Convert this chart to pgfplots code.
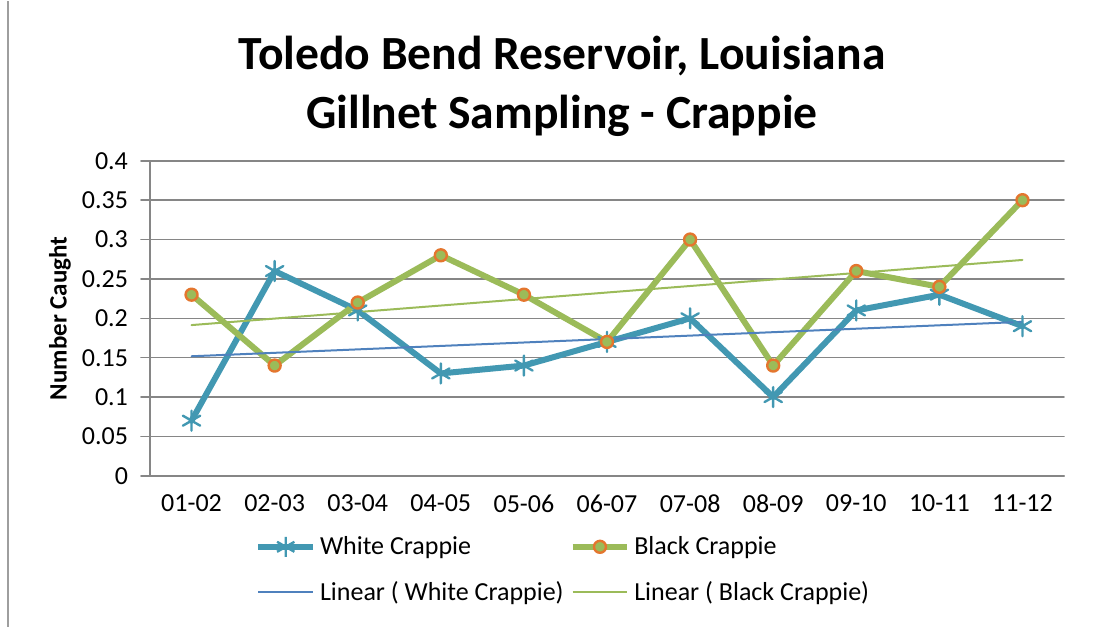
\documentclass[border=0pt]{standalone}
\usepackage{pgfplots}
\usepackage{pgfplotstable}
\pgfplotsset{compat=1.18}
\usepackage{fontspec}
\setmainfont{Carlito}
\definecolor{whiteC}{RGB}{66,152,178}
\definecolor{blackC}{RGB}{155,187,89}
\definecolor{markEdge}{RGB}{228,118,46}
\definecolor{trendW}{RGB}{79,129,189}
\definecolor{gridC}{RGB}{134,134,134}

% seasons 01-02 ... 11-12 at x = 0..10
\pgfplotstableread{
x w b
0 0.07 0.23
1 0.26 0.14
2 0.21 0.22
3 0.13 0.28
4 0.14 0.23
5 0.17 0.17
6 0.20 0.30
7 0.10 0.14
8 0.21 0.26
9 0.23 0.24
10 0.19 0.35
}\crappie

\begin{document}
\begin{tikzpicture}
\path (0,0) rectangle (555.5pt,313pt);
\draw[gridC!80, line width=0.8pt] (4pt,0) -- (4pt,313pt);
\node[font=\fontsize{23.8}{29.5}\selectfont\bfseries, align=center] at (281pt,270pt)
  {Toledo Bend Reservoir, Louisiana\\Gillnet Sampling - Crappie};
\begin{axis}[
  at={(75pt,75.5pt)}, anchor=south west,
  scale only axis, width=457pt, height=157.5pt,
  xmin=-0.5, xmax=10.5, ymin=0, ymax=0.4,
  axis x line=bottom, axis y line=left,
  axis line style={draw=gridC, line width=0.8pt, -},
  xtick={0,...,10},
  xticklabels={01-02,02-03,03-04,04-05,05-06,06-07,07-08,08-09,09-10,10-11,11-12},
  x tick style={draw=none},
  xticklabel style={yshift=-1.5pt},
  extra x ticks={-0.5,0.5,...,10.5},
  extra x tick labels={},
  extra x tick style={tick align=outside, major tick length=4pt,
    tick style={draw=gridC, line width=0.8pt}},
  ytick={0,0.05,0.1,0.15,0.2,0.25,0.3,0.35,0.4},
  y tick style={draw=gridC, line width=0.8pt},
  tick align=outside, major tick length=4.5pt,
  ymajorgrids, grid style={draw=gridC, line width=0.8pt},
  yticklabel style={/pgf/number format/fixed, /pgf/number format/precision=2, xshift=-3pt},
  /pgf/number format/assume math mode=true,
  tick label style={font=\fontsize{13}{15}\selectfont},
  every axis y label/.style={at={(axis description cs:-0.0985,0.5)}, rotate=90, anchor=center},
  ylabel={Number Caught},
  ylabel style={font=\fontsize{12.5}{15}\selectfont\bfseries},
  legend columns=2,
  legend cell align=left,
  legend style={at={(0.1149,-0.178)}, anchor=north west, draw=none, fill=none,
    inner sep=0pt, font=\fontsize{13}{15}\selectfont, row sep=8pt,
    /tikz/every even column/.append style={column sep=1pt}},
  legend image code/.code={
    \draw[#1, mark repeat=2, mark phase=2] plot coordinates {(0cm,0cm) (0.48cm,0cm) (0.96cm,0cm)};},
  line join=round, line cap=round,
]
\addplot[whiteC, line width=3pt, mark=asterisk, mark size=5pt,
  mark options={line width=1.2pt, solid}] table[x=x, y=w] {\crappie};
\addlegendentry{White Crappie}
\addplot[blackC, line width=3pt, mark=*, mark size=3pt,
  mark options={fill=blackC, draw=markEdge, line width=1.2pt}] table[x=x, y=b] {\crappie};
\addlegendentry{Black Crappie}
% least-squares trend lines of the two series
\addplot[trendW, line width=1pt] coordinates {(0,0.1518) (10,0.1955)};
\addlegendentry{Linear ( White Crappie)}
\addplot[blackC, line width=1pt] coordinates {(0,0.1914) (10,0.2741)};
\addlegendentry{Linear ( Black Crappie)}
\end{axis}
\end{tikzpicture}
\end{document}
